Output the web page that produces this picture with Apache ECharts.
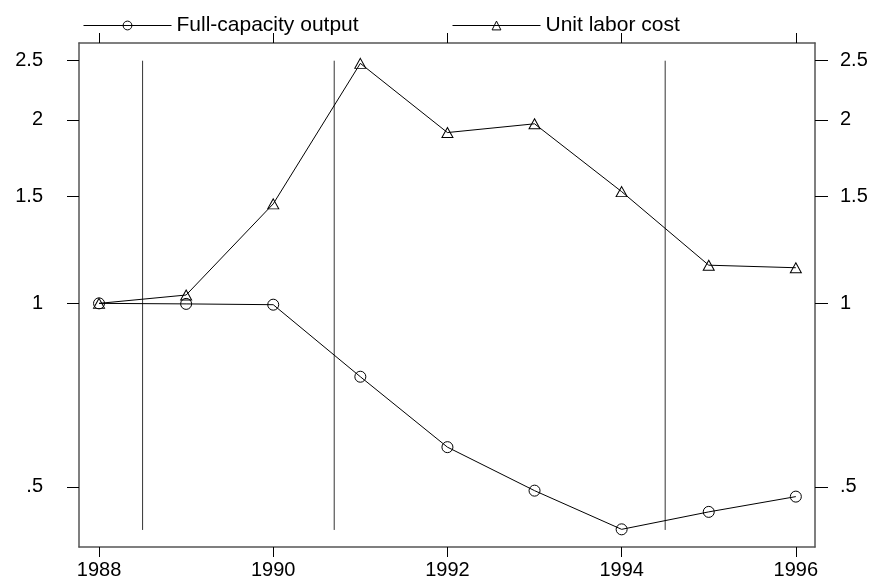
<!DOCTYPE html>
<html>
<head>
<meta charset="utf-8">
<script src="https://cdn.jsdelivr.net/npm/echarts@6/dist/echarts.min.js"></script>
<style>
  html, body { margin: 0; padding: 0; background: #fff; }
  #chart { width: 871px; height: 580px; }
</style>
</head>
<body>
<div id="chart"></div>
<script>
  // years and index values (1988 = 1)
  var years = [1988, 1989, 1990, 1991, 1992, 1993, 1994, 1995, 1996];
  var fullCapacityOutput = [1.0, 0.998, 0.995, 0.758, 0.581, 0.493, 0.426, 0.455, 0.482];
  var unitLaborCost = [1.0, 1.032, 1.456, 2.475, 1.906, 1.97, 1.525, 1.155, 1.144];

  // vertical reference lines
  var markerYears = [1988.5, 1990.7, 1994.5];
  var markerRange = [0.425, 2.5];

  var xTicks = [1988, 1990, 1992, 1994, 1996];
  var yTicks = [0.5, 1, 1.5, 2, 2.5];

  var axisColor = '#555';
  var font = 'Liberation Sans, Arial, sans-serif';

  function pairs(xs, ys) {
    return xs.map(function (x, i) { return [x, ys[i]]; });
  }

  function yLabel(v) {
    var s = String(Math.round(v * 10) / 10);
    return s.indexOf('0.') === 0 ? s.slice(1) : s;
  }

  var markerSeries = markerYears.map(function (yr) {
    return {
      type: 'line',
      data: [[yr, markerRange[0]], [yr, markerRange[1]]],
      showSymbol: false,
      silent: true,
      lineStyle: { color: '#333', width: 1 },
      z: 1
    };
  });

  var legendBase = {
    top: 10,
    itemWidth: 88,
    itemHeight: 11,
    lineStyle: { width: 1, color: '#000' },
    itemStyle: { borderWidth: 1, borderColor: '#000' },
    textStyle: { fontSize: 21, color: '#000', fontFamily: font }
  };

  var myChart = echarts.init(document.getElementById('chart'));
  var option = {
    animation: false,
    backgroundColor: '#fff',
    textStyle: { fontFamily: font },
    legend: [
      Object.assign({ left: 78, data: ['Full-capacity output'] }, legendBase),
      Object.assign({ left: 447, data: ['Unit labor cost'] }, legendBase)
    ],
    grid: { left: 79, right: 56, top: 43, bottom: 33 },
    xAxis: [{
      type: 'value',
      position: 'bottom',
      min: 1987.77,
      max: 1996.22,
      splitLine: { show: false },
      axisLine: { lineStyle: { color: axisColor, width: 1.5 } },
      axisTick: { show: true, length: 10, customValues: xTicks, lineStyle: { color: '#000' } },
      axisLabel: {
        customValues: xTicks, margin: 13, fontSize: 20, color: '#000', fontFamily: font,
        formatter: function (v) { return String(v); }
      }
    }, {
      type: 'value',
      position: 'top',
      min: 1987.77,
      max: 1996.22,
      splitLine: { show: false },
      axisLine: { lineStyle: { color: axisColor, width: 1.5 } },
      axisTick: { show: true, length: 10, customValues: xTicks, lineStyle: { color: '#000' } },
      axisLabel: { show: false }
    }],
    yAxis: [{
      type: 'log',
      position: 'left',
      min: 0.3985,
      max: 2.673,
      splitLine: { show: false },
      minorTick: { show: false },
      axisLine: { show: true, lineStyle: { color: axisColor, width: 1.5 } },
      axisTick: { show: true, length: 12, customValues: yTicks, lineStyle: { color: '#000' } },
      axisLabel: {
        customValues: yTicks, margin: 36, fontSize: 20, color: '#000', fontFamily: font,
        formatter: yLabel
      }
    }, {
      type: 'log',
      position: 'right',
      min: 0.3985,
      max: 2.673,
      splitLine: { show: false },
      minorTick: { show: false },
      axisLine: { show: true, lineStyle: { color: axisColor, width: 1.5 } },
      axisTick: { show: true, length: 13, customValues: yTicks, lineStyle: { color: '#000' } },
      axisLabel: {
        customValues: yTicks, margin: 25, fontSize: 20, color: '#000', fontFamily: font,
        formatter: yLabel
      }
    }],
    series: [{
      name: 'Full-capacity output',
      type: 'line',
      data: pairs(years, fullCapacityOutput),
      symbol: 'circle',
      symbolSize: 11,
      lineStyle: { color: '#000', width: 1 },
      itemStyle: { color: 'rgba(0,0,0,0)', borderColor: '#000', borderWidth: 1 },
      z: 3
    }, {
      name: 'Unit labor cost',
      type: 'line',
      data: pairs(years, unitLaborCost),
      symbol: 'triangle',
      symbolSize: [11, 10],
      lineStyle: { color: '#000', width: 1 },
      itemStyle: { color: 'rgba(0,0,0,0)', borderColor: '#000', borderWidth: 1 },
      z: 3
    }].concat(markerSeries)
  };
  myChart.setOption(option);
</script>
</body>
</html>
